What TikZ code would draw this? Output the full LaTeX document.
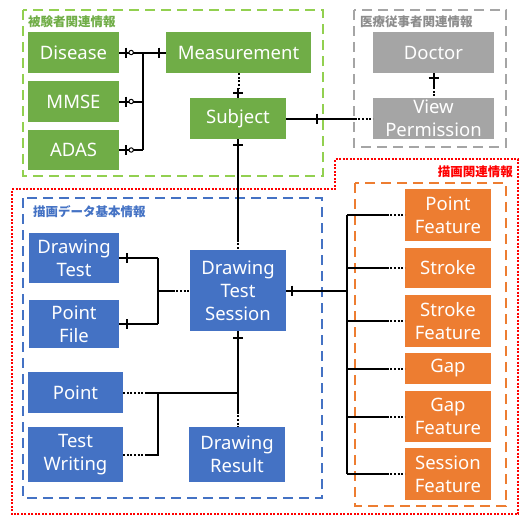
\documentclass[tikz,border=0pt]{standalone}
\usepackage{fontspec}
\setmainfont{Noto Sans}
\newfontfamily\jp{Noto Sans CJK JP}
\usetikzlibrary{calc}

\definecolor{gfill}{HTML}{70AD47}
\definecolor{gline}{HTML}{92D050}
\definecolor{bfill}{HTML}{4472C4}
\definecolor{ofill}{HTML}{ED7D31}
\definecolor{kfill}{HTML}{A5A5A5}
\definecolor{klabel}{HTML}{8C8C8C}
\definecolor{rline}{HTML}{FF0000}

\tikzset{
  entity/.style={rectangle, inner sep=0pt, text=white, align=center,
    font=\fontsize{18.5}{23}\selectfont},
  gbox/.style={entity, fill=gfill},
  bbox/.style={entity, fill=bfill},
  obox/.style={entity, fill=ofill},
  kbox/.style={entity, fill=kfill},
  group/.style={line width=2.4pt, dash pattern=on 10pt off 6pt},
  grouplabel/.style={font=\jp\bfseries\fontsize{12.5}{14}\selectfont, inner sep=0pt},
  link/.style={line width=2pt, black},
  optlink/.style={line width=2pt, black, dash pattern=on 2pt off 1.6pt},
  tick/.style={line width=2pt, black},
}

\begin{document}
\begin{tikzpicture}[x=1pt, y=-1pt]
\useasboundingbox (0,0) rectangle (523,517);

% group frames
\draw[group, gline] (23,10) rectangle (323,176);
\draw[group, kfill] (354,10) rectangle (506,147);
\draw[rline, line width=2.4pt, dash pattern=on 2pt off 1.5pt]
  (12,189) -- (335,189) -- (335,159) -- (518,159) -- (518,514) -- (12,514) -- cycle;
\draw[group, bfill] (23,198) rectangle (322,498);
\draw[group, ofill] (355,183) rectangle (506,506);

% group titles
\node[grouplabel, text=gfill, anchor=west] (tsubj) at (28,22) {被験者関連情報};
\node[grouplabel, text=klabel, anchor=west] (tdoc) at (360,22) {医療従事者関連情報};
\node[grouplabel, text=rline, anchor=east] (tdraw) at (513,172) {描画関連情報};
\node[grouplabel, text=bfill, anchor=west] (tbase) at (33,212) {描画データ基本情報};

% subject information
\node[gbox, minimum width=91pt, minimum height=41pt] (dis) at (73.5,52.5) {Disease};
\node[gbox, minimum width=91pt, minimum height=41pt] (mmse) at (73.5,101.5) {MMSE};
\node[gbox, minimum width=91pt, minimum height=40pt] (adas) at (73.5,150) {ADAS};
\node[gbox, minimum width=145pt, minimum height=41pt] (meas) at (238.5,52.5) {Measurement};
\node[gbox, minimum width=96pt, minimum height=41pt] (subj) at (238,118.5) {Subject};

% medical staff information
\node[kbox, minimum width=121pt, minimum height=41pt] (doc) at (433.5,52.5) {Doctor};
\node[kbox, minimum width=121pt, minimum height=41pt] (vp) at (433.5,118.5) {View\\Permission};

% basic drawing data
\node[bbox, minimum width=90pt, minimum height=50pt] (dt) at (74,258) {Drawing\\Test};
\node[bbox, minimum width=90pt, minimum height=48pt] (pf) at (74,324) {Point\\File};
\node[bbox, minimum width=96pt, minimum height=81pt] (dts) at (238,290.5) {Drawing\\Test\\Session};
\node[bbox, minimum width=95pt, minimum height=41pt] (pt) at (75.5,392.5) {Point};
\node[bbox, minimum width=95pt, minimum height=55pt] (tw) at (75.5,454.5) {Test\\Writing};
\node[bbox, minimum width=96pt, minimum height=55pt] (dr) at (237,454.5) {Drawing\\Result};

% features
\node[obox, minimum width=86pt, minimum height=52pt] (pfe) at (448,215) {Point\\Feature};
\node[obox, minimum width=86pt, minimum height=40pt] (st) at (448,268) {Stroke};
\node[obox, minimum width=86pt, minimum height=52pt] (sfe) at (448,321) {Stroke\\Feature};
\node[obox, minimum width=86pt, minimum height=31pt] (gap) at (448,368.5) {Gap};
\node[obox, minimum width=86pt, minimum height=51pt] (gfe) at (448,416.5) {Gap\\Feature};
\node[obox, minimum width=86pt, minimum height=52pt] (sesf) at (448,474) {Session\\Feature};

% --- Disease / MMSE / ADAS -> Measurement
\coordinate (bA) at (143,52.5);
\foreach \n in {dis,mmse,adas}{
  \draw[link] (\n.east) -- (\n.east -| bA);
  \draw[tick] ($(\n.east)+(7,-5)$) -- ++(0,10);
  \draw[line width=1pt, fill=white] ($(\n.east)+(12,0)$) circle (2.2pt);
}
\draw[link] (bA) -- (bA |- adas.east);
\draw[link] (bA) -- (meas.west);
\draw[tick] ($(meas.west)+(-7,-5)$) -- ++(0,10);

% Measurement -> Subject
\draw[optlink] (meas.south) -- ($(meas.south)+(0,15)$);
\draw[link] ($(subj.north)+(0,-10)$) -- (subj.north);
\draw[tick] ($(subj.north)+(-5,-5)$) -- ++(10,0);

% Subject -> View Permission
\coordinate (sv) at ($(vp.west)+(-18,0)$);
\draw[link] (subj.east) -- (sv);
\draw[optlink] (sv) -- (vp.west);
\draw[tick] ($(subj.east)+(31,-5)$) -- ++(0,10);

% Doctor -> View Permission
\draw[link] (doc.south) -- ($(doc.south)+(0,14)$);
\draw[optlink] ($(doc.south)+(0,14)$) -- (vp.north);
\draw[tick] ($(doc.south)+(-5,5)$) -- ++(10,0);

% Subject -> Drawing Test Session
\coordinate (sd) at ($(dts.north)+(0,-10)$);
\draw[link] (subj.south) -- (sd);
\draw[optlink] (sd) -- (dts.north);
\draw[tick] ($(subj.south)+(-5,6)$) -- ++(10,0);

% Drawing Test / Point File -> Drawing Test Session
\coordinate (bB) at (158,258);
\draw[link] (dt.east) -- (bB);
\draw[link] (pf.east) -- (pf.east -| bB);
\draw[link] (bB) -- (bB |- pf.east);
\draw[tick] ($(dt.east)+(8,-5)$) -- ++(0,10);
\draw[tick] ($(pf.east)+(8,-5)$) -- ++(0,10);
\coordinate (bBm) at (bB |- dts.west);
\draw[link] (bBm) -- ($(dts.west)+(-17,0)$);
\draw[optlink] ($(dts.west)+(-17,0)$) -- (dts.west);

% Drawing Test Session -> Drawing Result
\coordinate (dd) at (dts.south |- dr.north);
\draw[link] (dts.south) -- ($(dd)+(0,-15)$);
\draw[optlink] ($(dd)+(0,-15)$) -- (dd);
\draw[tick] ($(dts.south)+(-5,7)$) -- ++(10,0);

% Point / Test Writing -> session line
\coordinate (pj) at (dts.south |- pt.east);
\coordinate (pd) at ($(pt.east)+(22,0)$);
\draw[optlink] (pt.east) -- (pd);
\draw[link] (pd) -- (pj);
\coordinate (td) at ($(tw.east)+(22,0)$);
\coordinate (tb) at (bB |- tw.east);
\draw[optlink] (tw.east) -- (td);
\draw[link] (td) -- (tb) -- (tb |- pt.east);

% Drawing Test Session -> features
\coordinate (bCx) at (347,0);
\coordinate (bC) at (bCx |- dts.east);
\draw[link] (dts.east) -- (bC);
\draw[tick] ($(dts.east)+(6,-5)$) -- ++(0,10);
\draw[link] (bC |- pfe.west) -- (bC |- sesf.west);
\foreach \n in {pfe,st,sfe,gap,gfe,sesf}{
  \draw[link] (bC |- \n.west) -- ($(\n.west)+(-18,0)$);
  \draw[optlink] ($(\n.west)+(-18,0)$) -- (\n.west);
}
\end{tikzpicture}
\end{document}
